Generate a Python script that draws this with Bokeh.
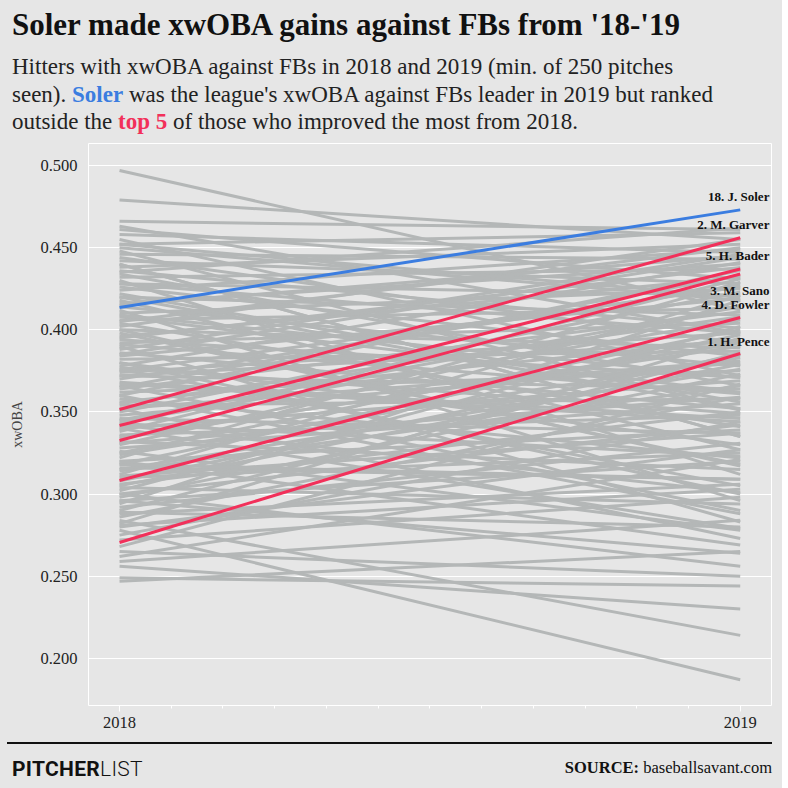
from bokeh.plotting import figure
from bokeh.models import Div, ColumnDataSource, Range1d, FixedTicker, NumeralTickFormatter
from bokeh.layouts import column
from bokeh.embed import file_html
from bokeh.resources import INLINE
from bokeh.core.properties import value

# Gray hitters: xwOBA vs FB in 2018 and 2019
gray_2018 = [0.497, 0.479, 0.466, 0.463, 0.461, 0.458, 0.455, 0.452, 0.450, 0.448,
             0.446, 0.444, 0.442, 0.440, 0.438, 0.436, 0.434, 0.432, 0.430, 0.428,
             0.426, 0.424, 0.422, 0.420, 0.418, 0.416, 0.414, 0.412, 0.410, 0.408,
             0.406, 0.404, 0.402, 0.400, 0.398, 0.396, 0.394, 0.392, 0.390, 0.388,
             0.386, 0.384, 0.382, 0.380, 0.378, 0.376, 0.374, 0.372, 0.370, 0.368,
             0.366, 0.364, 0.362, 0.360, 0.358, 0.356, 0.354, 0.352, 0.350, 0.348,
             0.346, 0.344, 0.342, 0.340, 0.338, 0.336, 0.334, 0.332, 0.330, 0.328,
             0.326, 0.324, 0.322, 0.320, 0.318, 0.316, 0.314, 0.312, 0.310, 0.308,
             0.306, 0.304, 0.302, 0.300, 0.298, 0.296, 0.294, 0.292, 0.290, 0.288,
             0.286, 0.284, 0.282, 0.280, 0.278, 0.275, 0.272, 0.268, 0.265, 0.262,
             0.259, 0.256, 0.249, 0.247, 0.415, 0.395, 0.375, 0.355, 0.335, 0.315,
             0.440, 0.420, 0.400, 0.380, 0.360, 0.340, 0.320, 0.300, 0.385, 0.365,
             0.345, 0.325, 0.305, 0.435, 0.405, 0.372, 0.352, 0.331, 0.311, 0.296,
             0.281, 0.428, 0.391, 0.367, 0.343, 0.318, 0.289, 0.452, 0.409, 0.377]
gray_2019 = [0.412, 0.455, 0.461, 0.398, 0.431, 0.447, 0.372, 0.459, 0.418, 0.351,
             0.443, 0.392, 0.428, 0.335, 0.452, 0.401, 0.366, 0.437, 0.312, 0.421,
             0.384, 0.449, 0.356, 0.409, 0.327, 0.440, 0.378, 0.296, 0.425, 0.362,
             0.413, 0.341, 0.455, 0.389, 0.318, 0.432, 0.371, 0.404, 0.283, 0.446,
             0.352, 0.419, 0.387, 0.330, 0.441, 0.305, 0.398, 0.364, 0.427, 0.346,
             0.290, 0.411, 0.375, 0.436, 0.322, 0.394, 0.358, 0.273, 0.423, 0.380,
             0.337, 0.406, 0.301, 0.369, 0.431, 0.348, 0.392, 0.315, 0.415, 0.355,
             0.278, 0.383, 0.429, 0.339, 0.397, 0.309, 0.366, 0.421, 0.325, 0.385,
             0.350, 0.294, 0.402, 0.342, 0.373, 0.264, 0.418, 0.331, 0.386, 0.306,
             0.359, 0.214, 0.395, 0.327, 0.187, 0.344, 0.298, 0.367, 0.250, 0.321,
             0.284, 0.230, 0.244, 0.265, 0.445, 0.438, 0.426, 0.408, 0.390, 0.376,
             0.335, 0.352, 0.317, 0.300, 0.288, 0.279, 0.269, 0.256, 0.444, 0.433,
             0.414, 0.400, 0.379, 0.462, 0.450, 0.393, 0.381, 0.359, 0.337, 0.320,
             0.303, 0.398, 0.361, 0.344, 0.323, 0.309, 0.280, 0.420, 0.371, 0.349]

hl_names = ["1. H. Pence", "2. M. Garver", "3. M. Sano", "4. D. Fowler", "5. H. Bader", "18. J. Soler"]
hl_2018 = [0.2705, 0.3515, 0.3326, 0.3083, 0.3417, 0.4136]
hl_2019 = [0.3856, 0.4560, 0.4340, 0.4075, 0.4370, 0.4730]
hl_colors = ["#f2305a"] * 5 + ["#3b7de0"]
label_y = [0.393, 0.464, 0.424, 0.4154, 0.445, 0.481]

years = [2018, 2019]
y_ticks = [0.200, 0.250, 0.300, 0.350, 0.400, 0.450, 0.500]

BG = "#e6e6e6"
SERIF = "Liberation Serif"

header = Div(width=772, height=127, styles={"background": BG}, text=(
    f"<div style='font-family:{SERIF};margin:0;padding:0 0 0 7px;white-space:nowrap'>"
    "<div style='font-weight:bold;font-size:31px;color:#111;line-height:32px;margin-top:4px'>"
    "Soler made xwOBA gains against FBs from '18-'19</div>"
    "<div style='font-size:23px;color:#222;line-height:27.5px;margin-top:12px'>"
    "Hitters with xwOBA against FBs in 2018 and 2019 (min. of 250 pitches<br>seen). "
    "<b style='color:#3b7de0'>Soler</b> was the league's xwOBA against FBs leader in 2019 but ranked<br>"
    "outside the <b style='color:#f2305a'>top 5</b> of those who improved the most from 2018.</div></div>"))

p = figure(width=772, height=600, output_backend="svg", toolbar_location=None,
           x_range=Range1d(2017.95, 2019.052), y_range=Range1d(0.1713, 0.5134),
           min_border_left=88, min_border_right=-3, min_border_top=6, min_border_bottom=32,
           background_fill_color=BG, border_fill_color=BG)
p.outline_line_color = "white"
p.grid.grid_line_color = "white"
p.xgrid.grid_line_color = None

xs = [years for _ in gray_2018]
ys = [[a, b] for a, b in zip(gray_2018, gray_2019)]
p.multi_line(xs=xs, ys=ys, line_color="#b4b7b7", line_width=3)

src = ColumnDataSource(dict(xs=[years] * 6, ys=[[a, b] for a, b in zip(hl_2018, hl_2019)],
                            color=hl_colors))
p.multi_line(xs="xs", ys="ys", line_color="color", line_width=3, source=src)

lsrc = ColumnDataSource(dict(x=[2019.047] * 6, y=label_y, t=hl_names))
p.text(x="x", y="y", text="t", source=lsrc, text_align="right", text_baseline="middle",
       text_font=value(SERIF), text_font_style="bold", text_font_size="13px", text_color="#111")

p.yaxis.ticker = FixedTicker(ticks=y_ticks)
p.yaxis.formatter = NumeralTickFormatter(format="0.000")
p.xaxis.ticker = FixedTicker(ticks=years, minor_ticks=[2018 + i / 12 for i in range(13)])
p.xaxis.formatter = NumeralTickFormatter(format="0")
for ax in (p.xaxis, p.yaxis):
    ax.axis_line_color = None
    ax.major_label_text_font = SERIF
    ax.major_label_text_font_size = "16.5px"
    ax.major_label_text_color = "#222"
p.yaxis.major_tick_line_color = None
p.yaxis.minor_tick_line_color = None
p.xaxis.major_tick_line_color = "white"
p.xaxis.minor_tick_line_color = "white"
p.xaxis.major_tick_in = 0
p.xaxis.major_tick_out = 6
p.xaxis.minor_tick_out = 3
p.yaxis.axis_label = "xwOBA"
p.yaxis.axis_label_text_font = SERIF
p.yaxis.axis_label_text_font_style = "normal"
p.yaxis.axis_label_text_font_size = "14px"
p.yaxis.axis_label_standoff = 12

footer = Div(width=772, height=45, styles={"background": BG}, text=(
    f"<div style='border-top:2px solid #111;margin-left:2px;width:765px;height:40px;position:relative;font-family:{SERIF}'>"
    "<div style='position:absolute;left:5px;top:10px;font-family:Roboto;font-size:21px;letter-spacing:0.3px;color:#111'>"
    "<b>PITCHER</b><span style='font-weight:300'>LIST</span></div>"
    "<div style='position:absolute;right:0px;top:12px;font-size:16.5px;color:#111'>"
    "<b>SOURCE:</b> baseballsavant.com</div></div>"))

layout = column(header, p, footer, spacing=0, styles={"background": BG})
html = file_html(layout, INLINE)
html = html.replace("<body>", f"<body style='background:{BG};margin:8px'>", 1)
open("out.html", "w").write(html)
